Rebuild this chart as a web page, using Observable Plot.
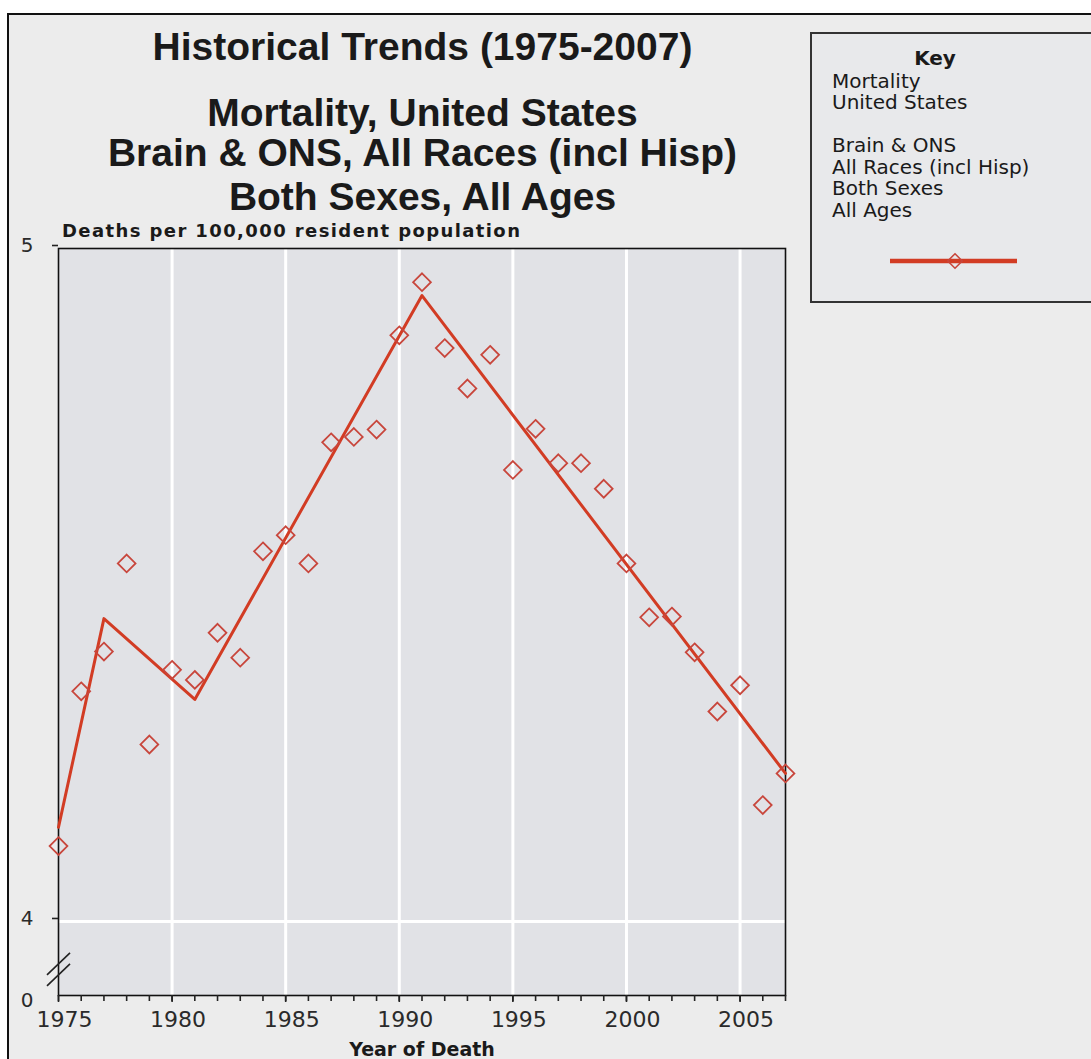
<!DOCTYPE html>
<html>
<head>
<meta charset="utf-8">
<script src="https://cdn.jsdelivr.net/npm/d3@7"></script>
<script src="https://cdn.jsdelivr.net/npm/@observablehq/plot@0.6"></script>
<style>
  html, body { margin: 0; padding: 0; background: #ffffff; }
  #page { position: relative; width: 1091px; height: 1059px; overflow: hidden; background: #ffffff; }
  #frame { position: absolute; left: 7px; top: 13px; width: 1200px; height: 1200px;
           border-left: 2px solid #111; border-top: 2px solid #111; background: #ececec; }
  #header { position: relative; height: 222px; }
  .t { position: absolute; left: 0; width: 845px; text-align: center; font-family: "Liberation Sans", Arial, sans-serif;
       font-weight: bold; font-size: 39px; line-height: 36px; color: #1a1a1a; white-space: nowrap; }
  #ylabel { position: absolute; left: 62px; top: 222px; font-family: "DejaVu Sans", sans-serif; font-weight: bold;
            font-size: 18px; line-height: 18px; letter-spacing: 1.4px; color: #1a1a1a; white-space: nowrap; }
  #key { position: absolute; left: 810px; top: 32px; width: 300px; height: 267px; border: 2px solid #333;
         background: #e8e9eb; z-index: 5; }
  #key .kt { position: absolute; left: 0; width: 246px; text-align: center; top: 14px;
             font-family: "DejaVu Sans", sans-serif; font-weight: bold; font-size: 20px; line-height: 21.5px; color: #1a1a1a; }
  #key .kl { position: absolute; left: 20px; top: 36.5px; font-family: "DejaVu Sans", sans-serif;
             font-size: 20px; line-height: 21.5px; color: #1a1a1a; white-space: pre; }
  #key svg { position: absolute; left: 0; top: 0; }
  #chart { position: relative; z-index: 2; }
</style>
</head>
<body>
<div id="page">
  <div id="frame"></div>
  <div id="header">
    <div class="t" style="top:29px">Historical Trends (1975-2007)</div>
    <div class="t" style="top:95px">Mortality, United States</div>
    <div class="t" style="top:135px">Brain &amp; ONS, All Races (incl Hisp)</div>
    <div class="t" style="top:179px">Both Sexes, All Ages</div>
    <div id="ylabel">Deaths per 100,000 resident population</div>
  </div>
  <div id="key"></div>
  <div id="chart"></div>
</div>
<script>
// ---- data ----
const years = [1975, 1976, 1977, 1978, 1979, 1980, 1981, 1982, 1983, 1984, 1985, 1986, 1987, 1988, 1989, 1990,
               1991, 1992, 1993, 1994, 1995, 1996, 1997, 1998, 1999, 2000, 2001, 2002, 2003, 2004, 2005, 2006, 2007];
const rates = [4.112, 4.342, 4.401, 4.532, 4.263, 4.374, 4.359, 4.429, 4.392, 4.550, 4.574, 4.532, 4.712, 4.720, 4.731, 4.871,
               4.950, 4.852, 4.792, 4.842, 4.671, 4.732, 4.681, 4.681, 4.643, 4.532, 4.452, 4.453, 4.400, 4.312, 4.351, 4.173, 4.220];
const trendYears = [1975, 1977, 1981, 1991, 2007];
const trendValues = [4.14, 4.45, 4.33, 4.93, 4.22];
const xLabelTicks = [1975, 1980, 1985, 1990, 1995, 2000, 2005];
const xGridTicks = [1980, 1985, 1990, 1995, 2000, 2005];
const yFloor = 3.89;            // where the broken axis shows "0"
const yTicks = [4, 5];
const keyLines = ["Mortality", "United States", "", "Brain & ONS", "All Races (incl Hisp)", "Both Sexes", "All Ages"];

const points = years.map((y, i) => ({year: y, rate: rates[i]}));
const trend = trendYears.map((y, i) => ({year: y, rate: trendValues[i]}));

const RED = "#d23c24";
const MARK = "#c8463c";

const plot = Plot.plot({
  width: 1091,
  height: 837,
  marginTop: 26,
  marginBottom: 64,
  marginLeft: 58,
  marginRight: 306,
  style: {background: "transparent", fontFamily: "DejaVu Sans, sans-serif", color: "#222"},
  x: {domain: [1975, 2007], label: null},
  y: {domain: [yFloor, 5], label: null},
  marks: [
    Plot.frame({fill: "#e1e2e6"}),
    Plot.ruleX(xGridTicks, {stroke: "#ffffff", strokeWidth: 3}),
    Plot.ruleY([4], {stroke: "#ffffff", strokeWidth: 3}),
    Plot.frame({stroke: "#111", strokeWidth: 1.6}),
    Plot.axisX(years, {tickSize: 6, tickFormat: () => "", stroke: "#222", strokeWidth: 1.6}),
    Plot.axisX(xLabelTicks, {tickSize: 7, tickFormat: () => "", stroke: "#222", strokeWidth: 1.6}),
    Plot.axisX(xLabelTicks, {tickSize: 0, tickPadding: 16, tickFormat: d => String(d),
      fontSize: 22, fontFamily: "DejaVu Sans, sans-serif", fill: "#2a2a2a", letterSpacing: 1.2, dx: 6}),
    Plot.axisY(yTicks, {tickSize: 6, tickPadding: 19, stroke: "#222", strokeWidth: 1.6,
      tickFormat: d => String(d), fontSize: 20, fill: "#2a2a2a", dy: -3}),
    Plot.axisY([yFloor], {tickSize: 0, tickPadding: 25, tickFormat: () => "0", fontSize: 20, fill: "#2a2a2a", dy: 5}),
    Plot.text(["Year of Death"], {frameAnchor: "bottom", text: d => d, dy: 47, lineAnchor: "top",
      fontSize: 19, fontWeight: "bold", fill: "#1a1a1a", letterSpacing: 1.2}),
    Plot.line(trend, {x: "year", y: "rate", stroke: RED, strokeWidth: 3}),
    Plot.dot(points, {x: "year", y: "rate", symbol: "diamond2", r: 8, stroke: MARK, strokeWidth: 1.8, fill: "none"})
  ]
});

// axis break marks on the y axis
{
  const sx = plot.scale("x"), sy = plot.scale("y");
  const x0 = sx.apply(1975), yc = sy.apply(3.928);
  const g = d3.select(plot).append("g").attr("stroke", "#222").attr("stroke-width", 1.6);
  for (const off of [-5.5, 5.5]) {
    g.append("line").attr("x1", x0 - 11).attr("y1", yc + off + 11).attr("x2", x0 + 12).attr("y2", yc + off - 11);
  }
}

document.getElementById("chart").appendChild(plot);

// key
const key = document.getElementById("key");
const kt = document.createElement("div"); kt.className = "kt"; kt.textContent = "Key"; key.appendChild(kt);
const kl = document.createElement("div"); kl.className = "kl"; kl.textContent = keyLines.join("\n"); key.appendChild(kl);
const ks = d3.create("svg").attr("width", 300).attr("height", 267);
ks.append("line").attr("x1", 78).attr("x2", 205).attr("y1", 227).attr("y2", 227).attr("stroke", RED).attr("stroke-width", 4.5);
ks.append("path").attr("d", d3.symbol(d3.symbolDiamond2, Math.PI * 6.5 * 6.5)()).attr("transform", "translate(143,227)")
  .attr("fill", "none").attr("stroke", MARK).attr("stroke-width", 1.6);
key.appendChild(ks.node());
</script>
</body>
</html>
